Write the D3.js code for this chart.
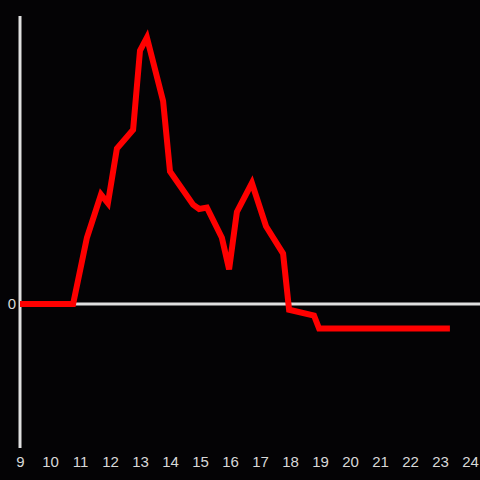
<!DOCTYPE html>
<html>
<head>
<meta charset="utf-8">
<script src="https://cdn.jsdelivr.net/npm/d3@7"></script>
<style>
  html, body { margin: 0; padding: 0; background: #040305; }
  svg { display: block; }
  .tick text { font-family: "Liberation Sans", Arial, sans-serif; font-size: 15px; fill: #d8d8d8; }
</style>
</head>
<body>
<svg width="480" height="480"></svg>
<script>
// Hours (x) and values (y)
var hours  = [9, 10.77, 11.23, 11.7, 11.93, 12.23, 12.77, 13, 13.23, 13.77, 14, 14.77, 14.97, 15.23,
              15.73, 15.97, 16.23, 16.73, 17.2, 17.77, 17.97, 18.8, 18.97, 23.33];
var values = [0, 0, 46, 76, 70, 108, 121, 176, 185, 141, 92, 69, 66, 67,
              46, 24, 64, 84, 54, 35, -4, -8, -17, -17];
var xTicks = d3.range(9, 25);
var yTicks = [0];

var svg = d3.select("svg");
var width = +svg.attr("width");
var height = +svg.attr("height");

// Scales
var x = d3.scaleLinear().domain([9, 24]).range([20, 470]);
var y = d3.scaleLinear().domain([-100, 200]).range([448, 16]);

// Background
svg.append("rect")
    .attr("width", width)
    .attr("height", height)
    .attr("fill", "#040305");

// Zero line
svg.append("line")
    .attr("x1", x(9))
    .attr("x2", width)
    .attr("y1", y(0))
    .attr("y2", y(0))
    .attr("stroke", "#e0e0e0")
    .attr("stroke-width", 3);

// Y axis line
svg.append("line")
    .attr("x1", x(9))
    .attr("x2", x(9))
    .attr("y1", y(200))
    .attr("y2", y(-100))
    .attr("stroke", "#e0e0e0")
    .attr("stroke-width", 3);

// X tick labels
var xAxis = svg.append("g")
    .attr("transform", `translate(0,${y(-100)})`)
    .call(d3.axisBottom(x).tickValues(xTicks).tickSize(0).tickPadding(8).tickFormat(d3.format("d")));
xAxis.select(".domain").remove();

// Y tick label
var yAxis = svg.append("g")
    .attr("transform", `translate(${x(9)},0)`)
    .call(d3.axisLeft(y).tickValues(yTicks).tickSize(0).tickPadding(4));
yAxis.select(".domain").remove();

// Data line
var line = d3.line()
    .x((d, i) => x(hours[i]))
    .y(d => y(d));

svg.append("path")
    .datum(values)
    .attr("d", line)
    .attr("fill", "none")
    .attr("stroke", "#ff0000")
    .attr("stroke-width", 6);
</script>
</body>
</html>
